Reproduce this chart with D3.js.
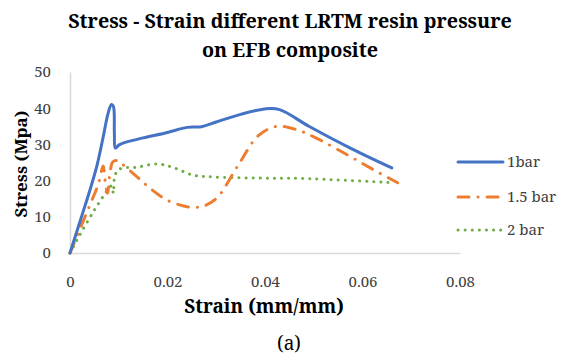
<!DOCTYPE html>
<html>
<head>
<meta charset="utf-8">
<script src="https://cdn.jsdelivr.net/npm/d3@7"></script>
<style>
  body { margin: 0; background: #fff; }
  svg { display: block; }
  text { font-family: "Noto Serif", "Liberation Serif", serif; }
</style>
</head>
<body>
<div id="chart"></div>
<script>
// series: [strain, stress]
const seriesNames = ["1bar", "1.5 bar", "2 bar"];
const bar1 = [
  [0, 0], [0.002, 8.5], [0.004, 17], [0.0055, 24], [0.0068, 32], [0.0078, 38.5],
  [0.0085, 41], [0.0089, 40.5], [0.0091, 33], [0.0093, 29], [0.0100, 29.8],
  [0.011, 30.4], [0.015, 31.8], [0.02, 33.3], [0.024, 34.7], [0.027, 34.9],
  [0.030, 36.2], [0.035, 38.3], [0.040, 39.8], [0.043, 39.6], [0.049, 35],
  [0.0576, 28.9], [0.066, 23.5]
];
const bar15 = [
  [0, 0], [0.002, 6.5], [0.004, 13], [0.0058, 19], [0.0068, 24], [0.0072, 20],
  [0.0077, 16.5], [0.0082, 22], [0.0088, 25.2], [0.0098, 25.5], [0.0105, 24.8],
  [0.0137, 21.1], [0.0164, 17.9], [0.0199, 14.6], [0.0233, 13], [0.0255, 12.6],
  [0.0275, 13], [0.0302, 15.3], [0.0343, 23.8], [0.0387, 32.5], [0.0425, 35],
  [0.0466, 34], [0.05, 32.1], [0.0569, 27.1], [0.0624, 22.9], [0.0672, 19.4]
];
const bar2 = [
  [0, 0], [0.002, 5], [0.0048, 11.4], [0.007, 16], [0.0085, 18.5], [0.0089, 16.5],
  [0.0091, 20.5], [0.0096, 22.5], [0.0106, 23.4], [0.0137, 23.7], [0.0178, 24.6],
  [0.0212, 23.6], [0.0253, 21.5], [0.0295, 21], [0.0384, 20.7], [0.0473, 20.6],
  [0.0665, 19.4]
];
const xTicks = [0, 0.02, 0.04, 0.06, 0.08];
const yTicks = [0, 10, 20, 30, 40, 50];

const width = 561, height = 358;
const margin = { top: 72, right: 101, bottom: 105, left: 70 };

const svg = d3.select("#chart").append("svg")
  .attr("width", width)
  .attr("height", height);

const x = d3.scaleLinear().domain([0, 0.08]).range([margin.left, width - margin.right]);
const y = d3.scaleLinear().domain([0, 50]).range([height - margin.bottom, margin.top]);

// titre
const title = svg.append("text")
  .attr("text-anchor", "middle")
  .attr("font-weight", "bold")
  .attr("font-size", "19.7px")
  .attr("fill", "#000");
title.append("tspan").attr("x", 290).attr("y", 28).text("Stress - Strain different LRTM resin pressure");
title.append("tspan").attr("x", 290).attr("y", 57).text("on EFB composite");

// axes
const xAxis = svg.append("g")
  .attr("transform", `translate(0,${y(0)})`)
  .call(d3.axisBottom(x).tickValues(xTicks).tickSize(0).tickPadding(23)
    .tickFormat(d => d === 0 ? "0" : d3.format(".2f")(d)));
const yAxis = svg.append("g")
  .attr("transform", `translate(${x(0)},0)`)
  .call(d3.axisLeft(y).tickValues(yTicks).tickSize(0).tickPadding(19));

[xAxis, yAxis].forEach(g => {
  g.select(".domain").attr("stroke", "#d9d9d9").attr("stroke-width", 1.5);
  g.selectAll("text")
    .attr("font-family", "'Noto Serif', serif")
    .attr("font-size", "15px")
    .attr("fill", "#404040");
});

svg.append("text")
  .attr("x", 264).attr("y", 313)
  .attr("text-anchor", "middle")
  .attr("font-weight", "bold")
  .attr("font-size", "19px")
  .text("Strain (mm/mm)");

svg.append("text")
  .attr("transform", `translate(27,164) rotate(-90)`)
  .attr("text-anchor", "middle")
  .attr("font-weight", "bold")
  .attr("font-size", "17px")
  .text("Stress (Mpa)");

svg.append("text")
  .attr("x", 289).attr("y", 350)
  .attr("text-anchor", "middle")
  .attr("font-size", "19px")
  .text("(a)");

// courbes
const line = d3.line()
  .x(d => x(d[0]))
  .y(d => y(d[1]))
  .curve(d3.curveCatmullRom.alpha(0.5));

const styles = [
  { data: bar1, color: "#4472c4", dash: null, cap: "round", w: 3 },
  { data: bar15, color: "#ed7d31", dash: "11,9,0.1,9", cap: "round", w: 3 },
  { data: bar2, color: "#70ad47", dash: "0.1,7", cap: "round", w: 3 }
];

styles.slice().reverse().forEach(s => {
  svg.append("path")
    .datum(s.data)
    .attr("fill", "none")
    .attr("stroke", s.color)
    .attr("stroke-width", s.w)
    .attr("stroke-linecap", s.cap)
    .attr("stroke-linejoin", "round")
    .attr("stroke-dasharray", s.dash)
    .attr("d", line);
});

// légende
const legendY = [162, 197, 230];
const legend = svg.append("g");
styles.forEach((s, i) => {
  legend.append("line")
    .attr("x1", 458).attr("x2", 503)
    .attr("y1", legendY[i]).attr("y2", legendY[i])
    .attr("stroke", s.color)
    .attr("stroke-width", s.w)
    .attr("stroke-linecap", s.cap)
    .attr("stroke-dasharray", s.dash);
  legend.append("text")
    .attr("x", 507).attr("y", legendY[i] + 5)
    .attr("font-size", "15px")
    .attr("fill", "#404040")
    .text(seriesNames[i]);
});
</script>
</body>
</html>
